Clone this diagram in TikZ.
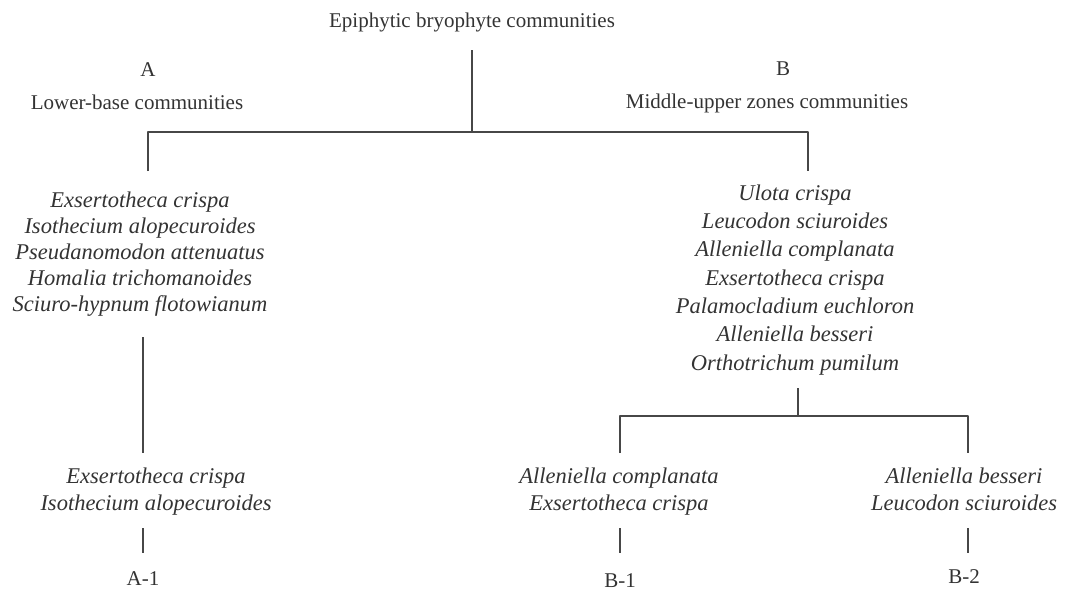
\documentclass[tikz,border=0pt]{standalone}
\usepackage{fontspec}
\setmainfont{Liberation Serif}
\definecolor{ink}{HTML}{333333}
\tikzset{
  head/.style={anchor=base,inner sep=0pt,text=ink,font=\fontsize{21}{25}\selectfont},
  taxa/.style={anchor=base,inner sep=0pt,align=center,text=ink,font=\fontsize{22.5}{#1}\itshape},
  branch/.style={draw=ink!90,line width=1.3pt}
}
\begin{document}
\begin{tikzpicture}[x=1pt,y=-1pt, line join=round]
			\useasboundingbox (0,0) rectangle (1081,590);
			% headings
			\node[head] (title) at (472,27) {Epiphytic bryophyte communities};
			\node[head] (grpA) at (148,76) {A};
			\node[head] (nameA) at (137,109) {Lower-base communities};
			\node[head] (grpB) at (783,75) {B};
			\node[head] (nameB) at (767,108) {Middle-upper zones communities};
			% species lists (base = last line)
			\node[taxa=26] (listA) at (140,311) {Exsertotheca crispa\\Isothecium alopecuroides\\Pseudanomodon attenuatus\\Homalia trichomanoides\\Sciuro-hypnum flotowianum};
			\node[taxa=28.3] (listB) at (795,370) {Ulota crispa\\Leucodon sciuroides\\Alleniella complanata\\Exsertotheca crispa\\Palamocladium euchloron\\Alleniella besseri\\Orthotrichum pumilum};
			\node[taxa=27] (listAone) at (156,510) {Exsertotheca crispa\\Isothecium alopecuroides};
			\node[taxa=27] (listBone) at (619,510) {Alleniella complanata\\Exsertotheca crispa};
			\node[taxa=27] (listBtwo) at (964,510) {Alleniella besseri\\Leucodon sciuroides};
			\node[head] (labAone) at (143,585) {A-1};
			\node[head] (labBone) at (620,587) {B-1};
			\node[head] (labBtwo) at (964,583) {B-2};
			% junction points
			\coordinate (root) at (472,50);
			\coordinate (barA) at (148,132);
			\coordinate (barB) at (808,132);
			\coordinate (inA) at (148,171);
			\coordinate (inB) at (808,171);
			\coordinate (outA) at (143,337);
			\coordinate (endA) at (143,453);
			\coordinate (outB) at (798,388);
			\coordinate (barBone) at (620,416);
			\coordinate (barBtwo) at (968,416);
			\coordinate (inBone) at (620,453);
			\coordinate (inBtwo) at (968,453);
			% tree
			\draw[branch] (root) -- (root |- barA);
			\draw[branch] (inA) -- (barA) -- (barB) -- (inB);
			\draw[branch] (outA) -- (endA);
			\draw[branch] (outB) -- (outB |- barBone);
			\draw[branch] (inBone) -- (barBone) -- (barBtwo) -- (inBtwo);
			\draw[branch] (labAone.north |- 0,528) -- (labAone.north |- 0,553);
			\draw[branch] (barBone |- 0,528) -- (barBone |- 0,553);
			\draw[branch] (barBtwo |- 0,528) -- (barBtwo |- 0,553);
		\end{tikzpicture}
\end{document}
